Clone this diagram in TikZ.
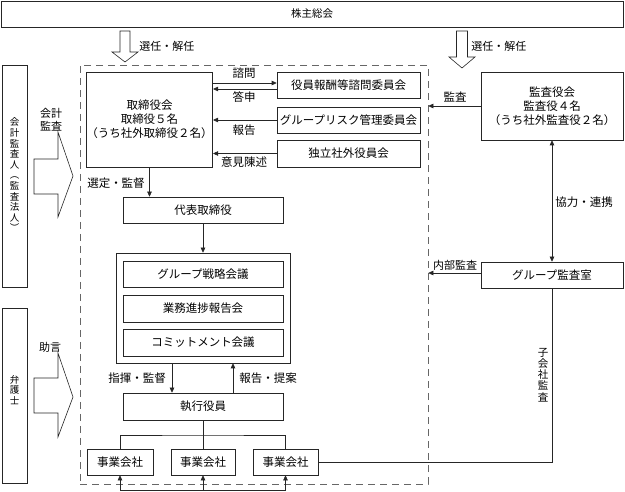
\documentclass[tikz,border=0pt]{standalone}
\usepackage{fontspec}
\setmainfont{Noto Sans CJK JP}
\usetikzlibrary{arrows.meta}

\begin{document}
\begin{tikzpicture}[x=1pt,y=-1pt,line width=0.6pt,draw=black!85,
    box/.style={draw,inner sep=0,align=center,font=\fontsize{11.5}{14}\selectfont},
    lbl/.style={inner sep=0,align=center,font=\fontsize{11.5}{13}\selectfont},
    tate/.style={inner sep=0,align=center,font=\fontsize{9.5}{10.6}\selectfont},
    arr/.style={-{Triangle[length=5pt,width=4.5pt]}},
    hollow/.style={draw,fill=white}]
  \useasboundingbox (0,0) rectangle (625,492);
  \node (waku) [draw=black!60,dash pattern=on 7pt off 5pt,minimum width=348,minimum height=419] at (254,274.5) {};

  \node (soukai) [box,minimum width=622,minimum height=26,font=\fontsize{10.5}{12}\selectfont] at (312,14) {株主総会};
  \node (torishimari) [box,minimum width=125,minimum height=95] at (149.5,119.5) {取締役会\\取締役５名\\（うち社外取締役２名）};
  \node (hoshu) [box,minimum width=143,minimum height=26] at (348.5,85) {役員報酬等諮問委員会};
  \node (risk) [box,minimum width=143,minimum height=26] at (348.5,120) {グループリスク管理委員会};
  \node (dokuritsu) [box,minimum width=143,minimum height=27] at (348.5,153.5) {独立社外役員会};
  \node (kansayaku) [box,minimum width=142,minimum height=68] at (552,106) {監査役会\\監査役４名\\（うち社外監査役２名）};
  \node (daihyo) [box,minimum width=160,minimum height=26] at (203,210) {代表取締役};
  \node (kaigi) [draw,minimum width=174,minimum height=110] at (203,308) {};
  \node (senryaku) [box,minimum width=160,minimum height=26] at (203,274) {グループ戦略会議};
  \node (shinchoku) [box,minimum width=160,minimum height=27] at (203,308.5) {業務進捗報告会};
  \node (commit) [box,minimum width=160,minimum height=27] at (203,342.5) {コミットメント会議};
  \node (shikko) [box,minimum width=160,minimum height=27] at (203,406.5) {執行役員};
  \node (jigyo1) [box,minimum width=66,minimum height=26] at (120,462) {事業会社};
  \node (jigyo2) [box,minimum width=64,minimum height=26] at (203,462) {事業会社};
  \node (jigyo3) [box,minimum width=65,minimum height=26] at (285.5,462) {事業会社};
  \node (gkansa) [box,minimum width=142,minimum height=26] at (552,275) {グループ監査室};
  \node (kaikei) [draw,minimum width=25,minimum height=222] at (14.5,176) {};
  \node (bengo) [draw,minimum width=25,minimum height=175] at (14.5,395.5) {};
  \node (kaikei-t) [tate] at (14.5,175) {会\\計\\監\\査\\人\\︵\\監\\査\\法\\人\\︶};
  \node (bengo-t) [tate] at (14.5,390) {弁\\護\\士};

  \draw[hollow] (120,31) -- (130,31) -- (130,52) -- (138,52) -- (125,62) -- (112,52) -- (120,52) -- cycle;
  \draw[hollow] (456.5,31) -- (467.5,31) -- (467.5,57) -- (475,57) -- (462,68) -- (449,57) -- (456.5,57) -- cycle;
  \draw[hollow] (34,159) -- (58,159) -- (58,132) -- (73,176) -- (58,217) -- (58,194) -- (34,194) -- cycle;
  \draw[hollow] (34,378) -- (58,378) -- (58,353) -- (73,397) -- (58,437) -- (58,413) -- (34,413) -- cycle;
  \node (sennin1) [lbl,anchor=west,font=\fontsize{11}{13}\selectfont] at (139,46) {選任・解任};
  \node (sennin2) [lbl,anchor=west,font=\fontsize{11}{13}\selectfont] at (471,46) {選任・解任};
  \node (kaikei-l) [lbl,font=\fontsize{11}{12.5}\selectfont] at (51,119.5) {会計\\監査};
  \node (jogen) [lbl,font=\fontsize{11}{13}\selectfont] at (50,347) {助言};

  \draw[arr] ([yshift=2]hoshu.west -| torishimari.east) -- ([yshift=2]hoshu.west);
  \draw[arr] ([yshift=-4]hoshu.west) -- ([yshift=-4]hoshu.west -| torishimari.east);
  \draw[arr] (risk.west) -- (risk.west -| torishimari.east);
  \draw[arr] (dokuritsu.west) -- (dokuritsu.west -| torishimari.east);
  \node (shimon) [lbl] at (244,73.5) {諮問};
  \node (toshin) [lbl] at (244,97) {答申};
  \node (hokoku1) [lbl] at (244,130) {報告};
  \node (iken) [lbl] at (244,162.5) {意見陳述};

  \draw[arr] (torishimari.south) -- (torishimari.south |- daihyo.north);
  \node (sentei) [lbl] at (116,183) {選定・監督};
  \draw[arr] (daihyo.south) -- (kaigi.north);
  \draw[arr] ([xshift=-31]kaigi.south) -- ([xshift=-31]shikko.north);
  \draw[arr] ([xshift=30]shikko.north) -- ([xshift=30]kaigi.south);
  \node (shiki) [lbl] at (137,378) {指揮・監督};
  \node (teian) [lbl] at (268,378) {報告・提案};

  \coordinate (bunki) at (203,435);
  \coordinate (shita) at (203,490);
  \draw (shikko.south) -- (bunki);
  \draw (jigyo1.north) |- (bunki) -| (jigyo3.north);
  \draw (bunki) -- (jigyo2.north);
  \draw (jigyo1.south |- shita) -- (jigyo3.south |- shita);
  \foreach \n in {1,2,3}
    \draw[arr] (jigyo\n.south |- shita) -- (jigyo\n.south);

  \draw[arr] (kansayaku.west) -- (kansayaku.west -| waku.east);
  \node (kansa-l) [lbl] at (455,97) {監査};
  \draw[{Triangle[length=5pt,width=4.5pt]}-{Triangle[length=5pt,width=4.5pt]}] (kansayaku.south) -- (gkansa.north);
  \node (kyoryoku) [lbl] at (584,202) {協力・連携};
  \draw[arr] ([yshift=2]gkansa.west) -- ([yshift=2]gkansa.west -| waku.east);
  \node (naibu) [lbl,font=\fontsize{11}{13}\selectfont] at (455,265) {内部監査};
  \draw (gkansa.south) |- (jigyo3.east);
  \node (kogaisha) [tate,font=\fontsize{10.5}{11.2}\selectfont] at (543,375) {子\\会\\社\\監\\査};
\end{tikzpicture}
\end{document}
